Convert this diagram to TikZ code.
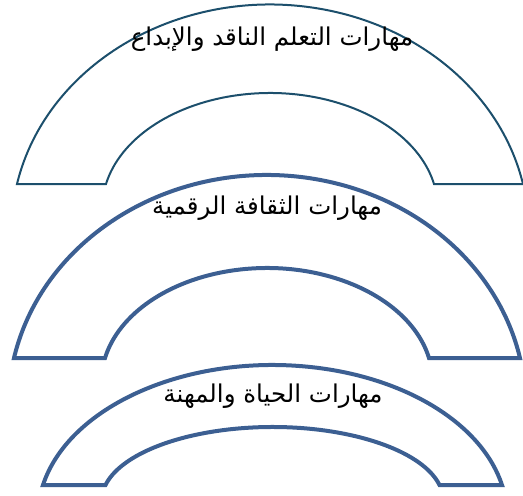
\documentclass[tikz,border=0pt]{standalone}
\usepackage{fontspec}
\usetikzlibrary{positioning}
\TeXXeTstate=1
\newfontfamily\arabicfont[Script=Arabic]{DejaVu Sans}
\definecolor{teal}{HTML}{1C4F6C}
\definecolor{slate}{HTML}{3C5F92}

% block arc: centre x, base y, outer half width, outer height, inner half width, inner height
\newcommand{\blockarc}[7][]{%
  \draw[#1] ({#2-#4},#3)
    arc[start angle=-168, end angle=-12, x radius={#4/cos(12)}, y radius={#5/(1-sin(12))}]
    -- ({#2+#6},#3)
    arc[start angle=-12, end angle=-168, x radius={#6/cos(12)}, y radius={#7/(1-sin(12))}]
    -- cycle;}

\begin{document}
\begin{tikzpicture}[x=1pt, y=-1pt,
  lab/.style={font=\arabicfont\fontsize{24.5}{28}\selectfont, text=black},
  thin arch/.style={draw=teal, line width=2pt, line join=miter},
  thick arch/.style={draw=slate, line width=4pt, line join=miter}]
  \useasboundingbox (0,0) rectangle (523,496);
  \blockarc[thin arch]{270}{184}{253}{179.5}{164}{91}
  \blockarc[thick arch]{267}{358}{253}{183}{162}{90}
  \blockarc[thick arch]{272.5}{485}{229.5}{120}{167}{58}
  \node[lab] (l1) at (272,39)  {\beginR مهارات التعلم الناقد والإبداع\endR};
  \node[lab] (l2) at (267,208) {\beginR مهارات الثقافة الرقمية\endR};
  \node[lab] (l3) at (273,396) {\beginR مهارات الحياة والمهنة\endR};
\end{tikzpicture}
\end{document}
